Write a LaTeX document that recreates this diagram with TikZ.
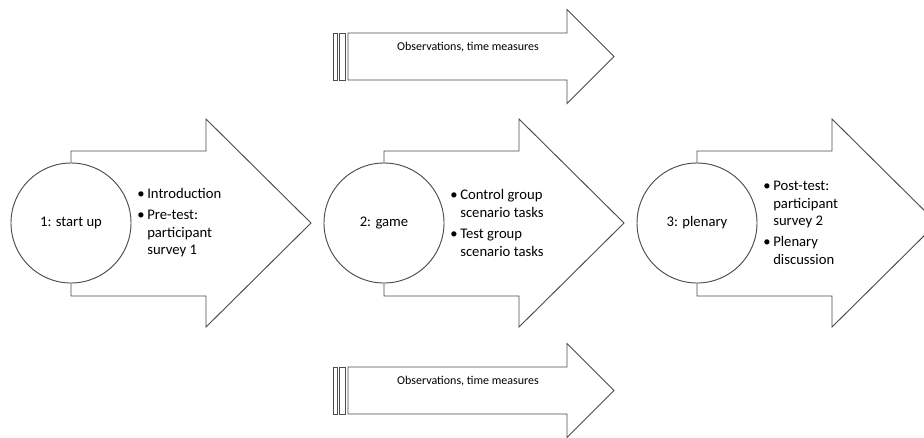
\documentclass[tikz,border=0pt]{standalone}
\usepackage{fontspec}
\setmainfont{Carlito}
\usetikzlibrary{positioning}
\newcommand\bul{\makebox[7.5pt][l]{\textbullet}}
\newcommand\ind{\hspace*{7.5pt}}
\begin{document}
\begin{tikzpicture}[x=0.75pt,y=-0.75pt,
    every node/.style={font=\fontsize{11}{13.2}\selectfont, inner sep=0pt},
    shape line/.style={draw=black!70, line width=0.7pt, fill=white},
    stage/.style={shape=circle, shape line, minimum size=90pt},
    items/.style={align=left, anchor=west}]
  \useasboundingbox (0,0) rectangle (924,437);
  \clip (0,0) rectangle (924,437);
  % three stages
  \foreach \i/\lbl/\txt in {%
      1/{1: start up}/{\bul Introduction\\[2.5pt]\bul Pre-test:\\\ind participant\\\ind survey 1},
      2/{2: game}/{\bul Control group\\\ind scenario tasks\\[2.5pt]\bul Test group\\\ind scenario tasks},
      3/{3: plenary}/{\bul Post-test:\\\ind participant\\\ind survey 2\\[2.5pt]\bul Plenary\\\ind discussion}} {
    \pgfmathsetmacro\cx{71+313*(\i-1)}
    \draw[shape line] (\cx,151) -- (\cx+135,151) -- (\cx+135,119) -- (\cx+240,223)
      -- (\cx+135,327) -- (\cx+135,296) -- (\cx,296) -- cycle;
    \node[stage] (stage\i) at (\cx,223) {\lbl};
    \node[items] (list\i) at (\cx+66,223) {\txt};
  }
  % observation arrows
  \foreach \n/\y in {top/56.5, bottom/390.5} {
    \draw[shape line] (333,\y-23.5) rectangle (337,\y+23.5);
    \draw[shape line] (339,\y-23.5) rectangle (345,\y+23.5);
    \draw[shape line] (348,\y-23.5) -- (567,\y-23.5) -- (567,\y-47) -- (614,\y)
      -- (567,\y+47) -- (567,\y+23.5) -- (348,\y+23.5) -- cycle;
    \node[font=\fontsize{9}{11}\selectfont] (obs\n) at (468,\y-9.5) {Observations, time measures};
  }
\end{tikzpicture}
\end{document}
